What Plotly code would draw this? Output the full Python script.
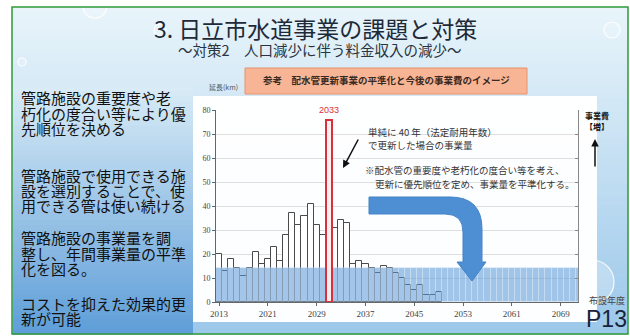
import plotly.graph_objects as go

# ---------------- data ----------------
years = list(range(2013, 2050))
lengths_km = [20, 13, 18, 14, 11, 14, 21, 16, 18, 23,
              17, 28, 37, 32, 36, 41, 32, 28, 76, 31,
              34, 33, 16, 17, 16, 14, 12, 15, 14, 12,
              10, 7, 5, 7, 3, 3, 4]
plan_years = list(range(2013, 2073))
plan_km = [14, 14, 14, 14, 14, 14, 14, 14, 14, 14,
           14, 14, 14, 14, 14, 14, 14, 14, 14, 14,
           14, 14, 14, 14, 14, 14, 14, 14, 14, 14,
           14, 14, 14, 14, 14, 14, 14, 14, 14, 14,
           14, 14, 14, 14, 14, 14, 14, 14, 14, 14,
           14, 14, 14, 14, 14, 14, 14, 14, 14, 14]
highlight_year = 2031
highlight_label = "2033"
x_tick_years = [2013, 2021, 2029, 2037, 2045, 2053, 2061, 2069]
y_ticks = [0, 10, 20, 30, 40, 50, 60, 70, 80]

# ---------------- geometry helpers ----------------
W, H = 630, 336
L, R, T, B = 216, 52, 110, 34
PW = W - L - R
PH = H - T - B


def px(x):
    return (x - L) / PW


def py(y):
    return (H - B - y) / PH


def hexrgb(h):
    h = h.lstrip('#')
    return tuple(int(h[i:i + 2], 16) for i in (0, 2, 4))


def mix(c0, c1, t):
    a, b = hexrgb(c0), hexrgb(c1)
    return 'rgb(%d,%d,%d)' % tuple(round(a[i] + (b[i] - a[i]) * t) for i in range(3))


shapes = []


def rect(x0, y0, x1, y1, fill, line=None, lw=0, layer='below'):
    shapes.append(dict(type='rect', xref='paper', yref='paper',
                       x0=px(x0), x1=px(x1), y0=py(y0), y1=py(y1),
                       fillcolor=fill, line=dict(color=line or fill, width=lw),
                       layer=layer))


def gradient(x0, y0, x1, y1, c0, c1, n=40):
    step = (y1 - y0) / n
    for i in range(n):
        rect(x0, y0 + i * step, x1, y0 + (i + 1) * step + 0.6,
             mix(c0, c1, i / (n - 1)))


def circle(cx, cy, r, line='rgba(255,255,255,0.9)', fill='rgba(255,255,255,0.15)', lw=1.2):
    shapes.append(dict(type='circle', xref='paper', yref='paper',
                       x0=px(cx - r), x1=px(cx + r), y0=py(cy + r), y1=py(cy - r),
                       fillcolor=fill, line=dict(color=line, width=lw), layer='below'))


# slide background
rect(0, 0, W, H, 'white')
gradient(12, 7, 628, 334, '#e8f4fa', '#9cc8ea', n=50)
# left text panel, bluer at the bottom
gradient(13, 86, 193, 334, '#d8ebf6', '#5f9ed8', n=50)
# droplets
circle(160, 30, 6)
circle(612, 30, 8)
circle(22, 62, 4)
circle(592, 282, 22, fill='rgba(255,255,255,0.25)')
circle(95, 6, 12)
# white chart panel
rect(193, 96, 597, 322, 'rgba(255,255,255,0.97)')
# orange header box
shapes.append(dict(type='rect', xref='paper', yref='paper',
                   x0=px(245), x1=px(527), y0=py(94), y1=py(68),
                   fillcolor='#f8b596', line=dict(color='#e9926c', width=1),
                   layer='below'))
# green frame
shapes.append(dict(type='rect', xref='paper', yref='paper',
                   x0=px(12), x1=px(628), y0=py(334), y1=py(7),
                   fillcolor='rgba(0,0,0,0)', line=dict(color='#2e9b3a', width=1.5),
                   layer='above'))

# big blue bending arrow
pts = [('M', 369, 197), ('L', 450, 197), ('Q', 482, 197, 482, 229), ('L', 482, 262),
       ('L', 486, 262), ('L', 472, 281), ('L', 457, 262), ('L', 463, 262),
       ('L', 463, 232), ('Q', 463, 214, 445, 214), ('L', 369, 214)]
path = ''
for p in pts:
    cmd = p[0]
    coords = p[1:]
    s = ' '.join('%.5f,%.5f' % (px(coords[i]), py(coords[i + 1])) for i in range(0, len(coords), 2))
    path += cmd + ' ' + s + ' '
path += 'Z'
shapes.append(dict(type='path', xref='paper', yref='paper', path=path,
                   fillcolor='#4d8fd2', line=dict(color='#4584c8', width=1), layer='above'))

# ---------------- traces ----------------
fig = go.Figure()
fig.add_trace(go.Bar(x=years, y=lengths_km, marker=dict(color='white', line=dict(color='#4a4a4a', width=1)),
                     width=1, hoverinfo='skip', showlegend=False))
fig.add_trace(go.Bar(x=plan_years, y=plan_km,
                     marker=dict(color='rgba(86,150,215,0.55)', line=dict(color='rgba(255,255,255,0.28)', width=0.8)),
                     width=1, hoverinfo='skip', showlegend=False))
hv = lengths_km[years.index(highlight_year)]
fig.add_trace(go.Bar(x=[highlight_year], y=[hv],
                     marker=dict(color='rgba(253,238,238,0.95)', line=dict(color='#d8313c', width=2)),
                     width=1, hoverinfo='skip', showlegend=False))
fig.add_trace(go.Scatter(x=[years[0]], y=[0], yaxis='y2', mode='markers',
                         marker=dict(opacity=0), hoverinfo='skip', showlegend=False))

# ---------------- annotations ----------------
ann = []
JP = 'Noto Sans CJK JP'


def text(s, x, y, size, color='#222', xanchor='left', family=JP, bold=False):
    if bold:
        s = '<b>' + s + '</b>'
    ann.append(dict(text=s, x=px(x), y=py(y), xref='paper', yref='paper', showarrow=False,
                    xanchor=xanchor, yanchor='middle', font=dict(size=size, color=color, family=family)))


text('3. 日立市水道事業の課題と対策', 315, 28, 23, '#1e2a38', 'center')
text('～対策2　人口減少に伴う料金収入の減少～', 320, 49, 14.5, '#2a3340', 'center')
text('参考　配水管更新事業の平準化と今後の事業費のイメージ', 386, 80, 9.5, '#3a2a22', 'center', bold=True)

left_lines = [('管路施設の重要度や老', 97), ('朽化の度合い等により優', 113), ('先順位を決める', 128),
              ('管路施設で使用できる施', 175), ('設を選別することで、使', 190), ('用できる管は使い続ける', 205),
              ('管路施設の事業量を調', 237), ('整し、年間事業量の平準', 253), ('化を図る。', 268),
              ('コストを抑えた効果的更', 303), ('新が可能', 318)]
for s, y in left_lines:
    text(s, 19, y, 15, '#111')

text('延長(km)', 207, 87, 7, '#555')
text('単純に 40 年（法定耐用年数）', 366, 132, 9.5, '#333')
text('で更新した場合の事業量', 366, 145, 9.5, '#333')
text('※配水管の重要度や老朽化の度合い等を考え、', 363, 170, 9.5, '#333')
text('更新に優先順位を定め、事業量を平準化する。', 373, 184, 9.5, '#333')
text('事業費', 597, 115, 8, '#111', 'center', bold=True)
text('【増】', 597, 126, 8, '#111', 'center', bold=True)
text('布設年度', 607, 300, 9, '#444', 'center')
text('P13', 606, 319, 23, '#17233a', 'center', family='Liberation Sans')

# red highlight label
ann.append(dict(text=highlight_label, x=highlight_year, y=hv, xref='x', yref='y', showarrow=False,
                yanchor='bottom', yshift=3, font=dict(size=9, color='#d8313c', family='Liberation Sans')))
# small black arrow
ann.append(dict(text='', x=px(343), y=py(168), xref='paper', yref='paper', showarrow=True,
                ax=16, ay=-30, arrowhead=2, arrowsize=1, arrowwidth=1.5, arrowcolor='#111'))
# up arrow next to 事業費
ann.append(dict(text='', x=px(595), y=py(139), xref='paper', yref='paper', showarrow=True,
                ax=0, ay=29, arrowhead=2, arrowsize=1, arrowwidth=1.5, arrowcolor='#111'))

serif = 'Liberation Serif'
fig.update_layout(
    width=W, height=H, margin=dict(l=L, r=R, t=T, b=B),
    paper_bgcolor='white', plot_bgcolor='rgba(0,0,0,0)',
    barmode='overlay', bargap=0,
    shapes=shapes, annotations=ann,
    xaxis=dict(range=[2012.5, 2012.5 + PW / 6.1], tickvals=x_tick_years, showgrid=False,
               showline=True, linecolor='#666', ticks='outside', ticklen=3, tickcolor='#666',
               tickfont=dict(family=serif, size=9, color='#444'), zeroline=False),
    yaxis=dict(range=[0, 80], tickvals=y_ticks, showgrid=True, gridcolor='#dedede',
               showline=True, linecolor='#666', ticks='outside', ticklen=3, tickcolor='#666',
               tickfont=dict(family=serif, size=8, color='#444'), zeroline=False),
    yaxis2=dict(range=[0, 80], tickvals=y_ticks, overlaying='y', side='right', showticklabels=False,
                showline=True, linecolor='#888', ticks='inside', ticklen=3, tickcolor='#888',
                showgrid=False, zeroline=False),
)

fig.write_html('out.html')
